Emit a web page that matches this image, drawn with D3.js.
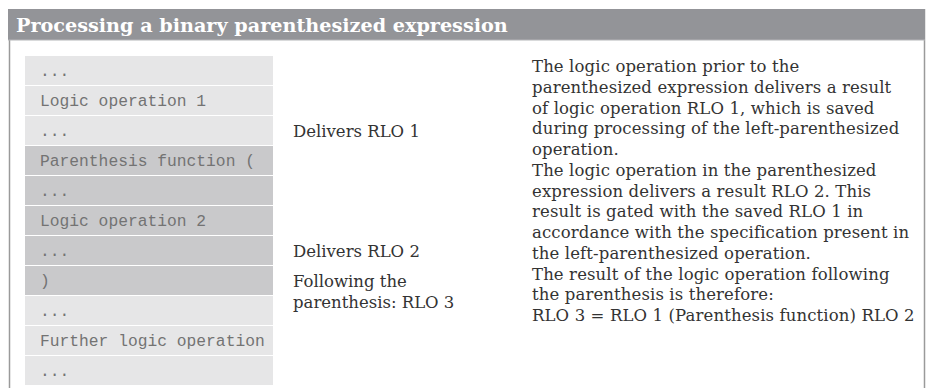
<!DOCTYPE html>
<html><head><meta charset="utf-8">
<script src="https://cdn.jsdelivr.net/npm/d3@7"></script>
<style>html,body{margin:0;padding:0;background:#fff;}svg{display:block;}</style>
</head><body>
<script>
const title = "Processing a binary parenthesized expression";
const steps = ["...", "Logic operation 1", "...", "Parenthesis function (", "...", "Logic operation 2", "...", ")", "...", "Further logic operation", "..."];
const inParens = [false, false, false, true, true, true, true, true, false, false, false];
const notes = [
  {row: 2, lines: ["Delivers RLO 1"]},
  {row: 6, lines: ["Delivers RLO 2"]},
  {row: 7, lines: ["Following the", "parenthesis: RLO 3"]}
];
const description = [
  "The logic operation prior to the",
  "parenthesized expression delivers a result",
  "of logic operation RLO 1, which is saved",
  "during processing of the left-parenthesized",
  "operation.",
  "The logic operation in the parenthesized",
  "expression delivers a result RLO 2. This",
  "result is gated with the saved RLO 1 in",
  "accordance with the specification present in",
  "the left-parenthesized operation.",
  "The result of the logic operation following",
  "the parenthesis is therefore:",
  "RLO 3 = RLO 1 (Parenthesis function) RLO 2"
];

const W = 926, H = 388;
const svg = d3.select("body").append("svg").attr("width", W).attr("height", H);

// frame
svg.append("line").attr("x1", 9.5).attr("x2", 9.5).attr("y1", 40).attr("y2", H).attr("stroke", "#9a9a9a").attr("stroke-width", 1.5);
svg.append("line").attr("x1", 924.5).attr("x2", 924.5).attr("y1", 9).attr("y2", H).attr("stroke", "#9a9a9a").attr("stroke-width", 1.5);
svg.append("rect").attr("x", 8).attr("y", 9).attr("width", 917).attr("height", 31).attr("fill", "#939498");
svg.append("line").attr("x1", 8).attr("x2", 925).attr("y1", 40).attr("y2", 40).attr("stroke", "#b4b5b8").attr("stroke-width", 1);
svg.append("text").attr("x", 16).attr("y", 32).text(title)
  .attr("font-family", "DejaVu Serif").attr("font-weight", "bold").attr("font-size", 19.2).attr("fill", "#fff");

// rows
const y = d3.scaleBand().domain(d3.range(steps.length)).range([56, 386]);
const step = y.step();
const x0 = 25, x1 = 273;
svg.append("g").selectAll("rect").data(steps).join("rect")
  .attr("x", x0).attr("width", x1 - x0)
  .attr("y", (d, i) => y(i)).attr("height", step - 1)
  .attr("fill", (d, i) => inParens[i] ? "#c9c9cb" : "#e6e6e7");
svg.append("g").selectAll("text").data(steps).join("text")
  .attr("x", 40).attr("y", (d, i) => y(i) + 19.5)
  .attr("font-family", "Liberation Mono").attr("font-size", 16.3).attr("fill", "#737373")
  .style("white-space", "pre")
  .text(d => d);

// notes
const ng = svg.append("g").attr("font-family", "DejaVu Serif").attr("font-size", 16.5).attr("fill", "#333");
notes.forEach(n => {
  n.lines.forEach((l, k) => {
    ng.append("text").attr("x", 293).attr("y", y(n.row) + 21 + k * 20.8).text(l);
  });
});

// description
const lh = d3.scaleLinear().domain([0, description.length - 1]).range([72, 72 + 20.75 * (description.length - 1)]);
svg.append("g").attr("font-family", "DejaVu Serif").attr("font-size", 16.5).attr("fill", "#333")
  .attr("letter-spacing", 0.12)
  .selectAll("text").data(description).join("text")
  .attr("x", 532).attr("y", (d, i) => lh(i)).text(d => d);
</script>
</body></html>
